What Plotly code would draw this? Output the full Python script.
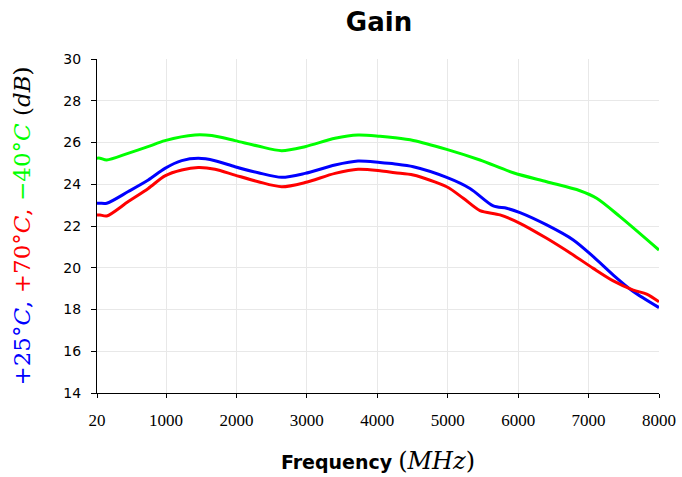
import plotly.graph_objects as go

freq_green = [20, 63, 158, 460, 744, 985, 1411, 1649, 1979, 2306, 2642, 2973, 3399, 3726, 4038, 4251, 4511, 4985, 5458, 5931, 6405, 6878, 7115, 7446, 8000]
gain_green = [25.25, 25.25, 25.16, 25.48, 25.8, 26.09, 26.36, 26.33, 26.09, 25.83, 25.61, 25.8, 26.2, 26.36, 26.3, 26.23, 26.1, 25.67, 25.16, 24.55, 24.12, 23.69, 23.33, 22.45, 20.85]

freq_blue = [20, 63, 158, 464, 748, 985, 1223, 1458, 1695, 1979, 2310, 2642, 2973, 3399, 3726, 4038, 4251, 4511, 4985, 5316, 5647, 5837, 6026, 6405, 6783, 7067, 7351, 7635, 8000]
gain_blue = [23.09, 23.09, 23.09, 23.65, 24.2, 24.76, 25.13, 25.24, 25.13, 24.84, 24.55, 24.33, 24.52, 24.92, 25.11, 25.04, 24.97, 24.84, 24.33, 23.8, 22.96, 22.85, 22.64, 22.05, 21.33, 20.53, 19.65, 18.86, 18.09]

freq_red = [20, 63, 158, 464, 748, 985, 1223, 1458, 1695, 1979, 2310, 2642, 2973, 3399, 3726, 4038, 4251, 4511, 4985, 5221, 5458, 5742, 6026, 6405, 6783, 7067, 7351, 7635, 7825, 8000]
gain_red = [22.53, 22.53, 22.48, 23.17, 23.8, 24.4, 24.68, 24.8, 24.72, 24.44, 24.12, 23.88, 24.08, 24.52, 24.72, 24.65, 24.55, 24.44, 23.88, 23.33, 22.74, 22.53, 22.13, 21.41, 20.61, 19.97, 19.37, 18.93, 18.74, 18.37]

x_ticks = [20, 1000, 2000, 3000, 4000, 5000, 6000, 7000, 8000]
y_ticks = [14, 16, 18, 20, 22, 24, 26, 28, 30]

fig = go.Figure()
for fx, gy, col in [(freq_green, gain_green, "#00ff00"),
                    (freq_blue, gain_blue, "#0000ff"),
                    (freq_red, gain_red, "#ff0000")]:
    fig.add_trace(go.Scatter(x=fx, y=gy, mode="lines",
                             line=dict(color=col, width=3, shape="spline", smoothing=0.8),
                             showlegend=False))

serif = "DejaVu Serif"
ytitle = ('<span style="color:#0000ff">+25°<i>C</i>,</span> '
          '<span style="color:#ff0000">+70°<i>C</i>,</span> '
          '<span style="color:#00ff00">−40°<i>C</i></span> '
          '<span style="color:#000000">(<i>dB</i>)</span>')

fig.update_layout(
    width=682, height=477,
    margin=dict(l=97, r=23, t=59, b=84, autoexpand=False),
    paper_bgcolor="white", plot_bgcolor="white",
    title=dict(text="<b>Gain</b>", x=379 / 682, xanchor="center", y=1 - 22 / 477, yanchor="middle",
               font=dict(family="DejaVu Sans", size=26, color="black")),
    xaxis=dict(range=[20, 8000], tickmode="array", tickvals=x_ticks,
               ticktext=[str(v) for v in x_ticks],
               showgrid=True, gridcolor="#e8e8e8", gridwidth=1,
               showline=True, linecolor="black", linewidth=1,
               ticks="outside", ticklen=4, tickcolor="black",
               tickfont=dict(family="Liberation Serif", size=17, color="black"),
               ticklabelstandoff=8,
               zeroline=False, automargin=False,
               title=dict(text="<b>Frequency</b> <span style=\"font-family:'DejaVu Serif';font-size:24px\">(<i>MHz</i>)</span>",
                          font=dict(family="DejaVu Sans", size=19, color="black"), standoff=26)),
    yaxis=dict(range=[14, 30], tickmode="array", tickvals=y_ticks,
               showgrid=True, gridcolor="#e8e8e8", gridwidth=1,
               showline=True, linecolor="black", linewidth=1,
               ticks="outside", ticklen=5, tickcolor="black",
               tickfont=dict(family="DejaVu Sans", size=14, color="black"),
               ticklabelstandoff=7,
               zeroline=False, automargin=False,
               title=dict(text=ytitle, font=dict(family=serif, size=23), standoff=26)),
)

fig.write_html("out.html", config={"displayModeBar": False},
               post_script="document.body.style.margin='0px';")
